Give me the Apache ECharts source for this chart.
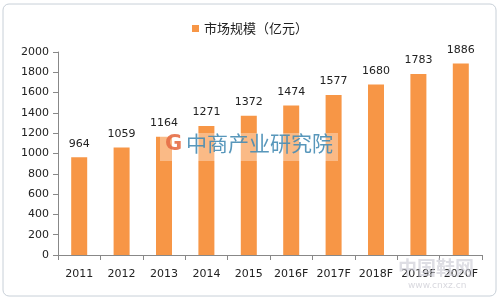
<!DOCTYPE html>
<html><head><meta charset="utf-8">
<script src="https://cdn.jsdelivr.net/npm/echarts@6/dist/echarts.min.js"></script>
<style>html,body{margin:0;padding:0;background:#fff}#c{width:500px;height:301px}</style>
</head><body><div id="c"></div>
<script>
const categories = ['2011','2012','2013','2014','2015','2016F','2017F','2018F','2019F','2020F'];
const values = [964,1059,1164,1271,1372,1474,1577,1680,1783,1886];
const seriesName = '市场规模（亿元）';
const yMin = 0, yMax = 2000, yInterval = 200;

const chart = echarts.init(document.getElementById('c'));
chart.setOption({
  animation: false,
  backgroundColor: '#fff',
  legend: {
    top: 17, left: 'center', itemWidth: 7, itemHeight: 7, itemGap: 4,
    icon: 'rect',
    textStyle: { fontFamily: 'Noto Sans CJK SC', fontSize: 13, color: '#222' },
    data: [seriesName]
  },
  grid: { left: 58, right: 18, top: 52, bottom: 46 },
  xAxis: {
    type: 'category', data: categories,
    axisLine: { lineStyle: { color: '#888' } },
    axisTick: { show: true, length: 5, lineStyle: { color: '#888' } },
    axisLabel: { margin: 14, fontFamily: 'DejaVu Sans', fontSize: 11, color: '#222', interval: 0 }
  },
  yAxis: {
    type: 'value', min: yMin, max: yMax, interval: yInterval,
    axisLine: { show: true, lineStyle: { color: '#888' } },
    axisTick: { show: true, length: 5, lineStyle: { color: '#888' } },
    splitLine: { show: false },
    axisLabel: { margin: 9, fontFamily: 'DejaVu Sans', fontSize: 11, color: '#222', formatter: v => String(v) }
  },
  series: [{
    name: seriesName, type: 'bar', data: values, barWidth: 16,
    itemStyle: { color: '#F79646' },
    label: { show: true, position: 'top', distance: 8, fontFamily: 'DejaVu Sans', fontSize: 11, color: '#222' }
  }],
  graphic: [
    { type: 'rect', shape: { x: 3, y: 4, width: 493, height: 292, r: 6 }, style: { fill: 'none', stroke: '#c8d0d8', lineWidth: 1 }, z: -1, silent: true },
    { type: 'rect', shape: { x: 160, y: 133, width: 178, height: 28 }, style: { fill: 'rgba(255,255,255,0.35)' }, z: 99, silent: true },
    { type: 'text', left: 186, top: 133, style: { text: '中商产业研究院', fontFamily: 'Noto Sans CJK SC', fontSize: 21, fill: 'rgba(70,140,180,0.9)' }, z: 100 },
    { type: 'text', left: 165, top: 134, style: { text: 'G', fontFamily: 'DejaVu Sans', fontWeight: 'bold', fontSize: 21, fill: 'rgba(230,110,70,0.9)' }, z: 100 },
    { type: 'text', left: 398, top: 258, style: { text: '中国鞋网', fontFamily: 'Noto Sans CJK SC', fontWeight: 'bold', fontSize: 19, fill: 'rgba(200,200,210,0.6)' }, z: 100 },
    { type: 'text', left: 408, top: 281, style: { text: 'www.cnxz.cn', fontFamily: 'DejaVu Sans', fontSize: 9, fill: 'rgba(190,190,200,0.6)' }, z: 100 }
  ]
});
</script></body></html>
